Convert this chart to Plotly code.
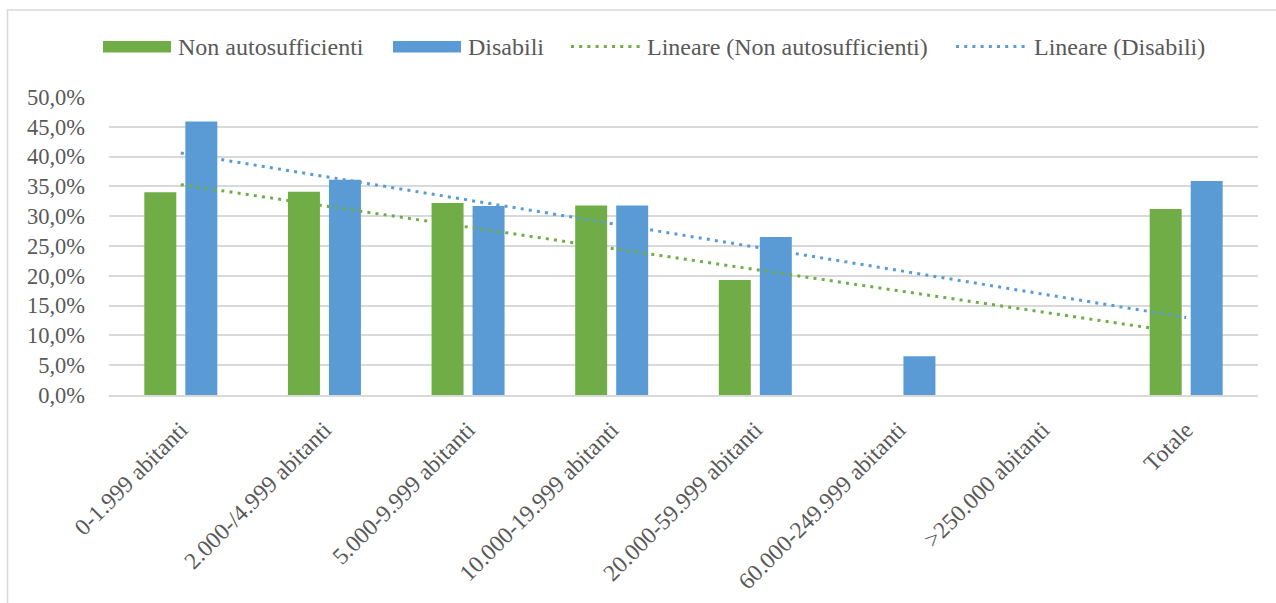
import numpy as np
import plotly.graph_objects as go

categories = ["0-1.999 abitanti", "2.000-/4.999 abitanti", "5.000-9.999 abitanti",
              "10.000-19.999 abitanti", "20.000-59.999 abitanti", "60.000-249.999 abitanti",
              ">250.000 abitanti", "Totale"]
non_autosufficienti = [34.0, 34.1, 32.2, 31.8, 19.3, 0.0, 0.0, 31.2]
disabili = [45.9, 36.1, 31.7, 31.8, 26.5, 6.5, 0.0, 35.9]
y_ticks = [0, 5, 10, 15, 20, 25, 30, 35, 40, 45, 50]
y_tick_labels = [f"{v:.1f}%".replace(".", ",") for v in y_ticks]

GREEN = "#70AD47"
BLUE = "#5B9BD5"
TXT = "#595959"
GRID = "#D9D9D9"
FONT = "Liberation Serif"

W, H = 1276, 603
L, R, T, B = 109, 18, 97, 208
PW, PH = W - L - R, H - T - B


def px_x(px):
    return (px - L) / PW


def px_y(py):
    return (H - B - py) / PH


# Excel-style linear trendlines (least squares over category index 1..n)
xi = np.arange(1, len(categories) + 1)
fit_g = np.polyfit(xi, non_autosufficienti, 1)
fit_b = np.polyfit(xi, disabili, 1)
ends = [xi[0], xi[-1]]
trend_g = list(np.polyval(fit_g, ends))
trend_b = list(np.polyval(fit_b, ends))
trend_x = [categories[0], categories[-1]]

DOT = "3px,5.2px"

fig = go.Figure()
fig.add_trace(go.Bar(x=categories, y=non_autosufficienti, name="Non autosufficienti",
                     marker=dict(color=GREEN, line=dict(width=0)), showlegend=False))
fig.add_trace(go.Bar(x=categories, y=disabili, name="Disabili",
                     marker=dict(color=BLUE, line=dict(width=0)), showlegend=False))
fig.add_trace(go.Scatter(x=trend_x, y=trend_g, mode="lines", name="Lineare (Non autosufficienti)",
                         line=dict(color=GREEN, width=3, dash=DOT), showlegend=False))
fig.add_trace(go.Scatter(x=trend_x, y=trend_b, mode="lines", name="Lineare (Disabili)",
                         line=dict(color=BLUE, width=3, dash=DOT), showlegend=False))

shapes = [
    # outer chart frame
    dict(type="rect", xref="paper", yref="paper",
         x0=px_x(7.5), x1=px_x(1300), y0=px_y(640), y1=px_y(10),
         line=dict(color=GRID, width=1.5), fillcolor="rgba(0,0,0,0)", layer="below"),
    # legend keys
    dict(type="rect", xref="paper", yref="paper", x0=px_x(103), x1=px_x(171),
         y0=px_y(52.5), y1=px_y(41), fillcolor=GREEN, line=dict(width=0)),
    dict(type="rect", xref="paper", yref="paper", x0=px_x(393), x1=px_x(461),
         y0=px_y(52.5), y1=px_y(41), fillcolor=BLUE, line=dict(width=0)),
    dict(type="line", xref="paper", yref="paper", x0=px_x(571), x1=px_x(644),
         y0=px_y(46.5), y1=px_y(46.5), line=dict(color=GREEN, width=3, dash=DOT)),
    dict(type="line", xref="paper", yref="paper", x0=px_x(956), x1=px_x(1029),
         y0=px_y(46.5), y1=px_y(46.5), line=dict(color=BLUE, width=3, dash=DOT)),
]

legend_texts = [("Non autosufficienti", 176), ("Disabili", 466),
                ("Lineare (Non autosufficienti)", 645), ("Lineare (Disabili)", 1032)]
annotations = [dict(text=t, xref="paper", yref="paper", x=px_x(x0), y=px_y(46.5),
                    xanchor="left", yanchor="middle", showarrow=False,
                    font=dict(family=FONT, size=24, color=TXT))
               for t, x0 in legend_texts]

fig.update_layout(
    width=W, height=H,
    margin=dict(l=L, r=R, t=T, b=B, autoexpand=False),
    paper_bgcolor="white", plot_bgcolor="white",
    barmode="group", bargap=0.429, bargroupgap=0.22,
    font=dict(family=FONT, size=22.5, color=TXT),
    shapes=shapes, annotations=annotations,
    showlegend=False,
)
fig.update_xaxes(type="category", tickangle=-45, showgrid=False,
                 showline=True, linecolor=GRID, linewidth=1.5,
                 ticks="", ticklabelstandoff=10,
                 tickfont=dict(family=FONT, size=23.5, color=TXT))
fig.update_yaxes(range=[0, 50], tickvals=y_ticks, ticktext=y_tick_labels,
                 showgrid=True, gridcolor=GRID, gridwidth=1.5, zeroline=False,
                 showline=False, ticks="", ticklabelstandoff=23,
                 tickfont=dict(family=FONT, size=22.5, color=TXT))

fig.write_html("out.html")
